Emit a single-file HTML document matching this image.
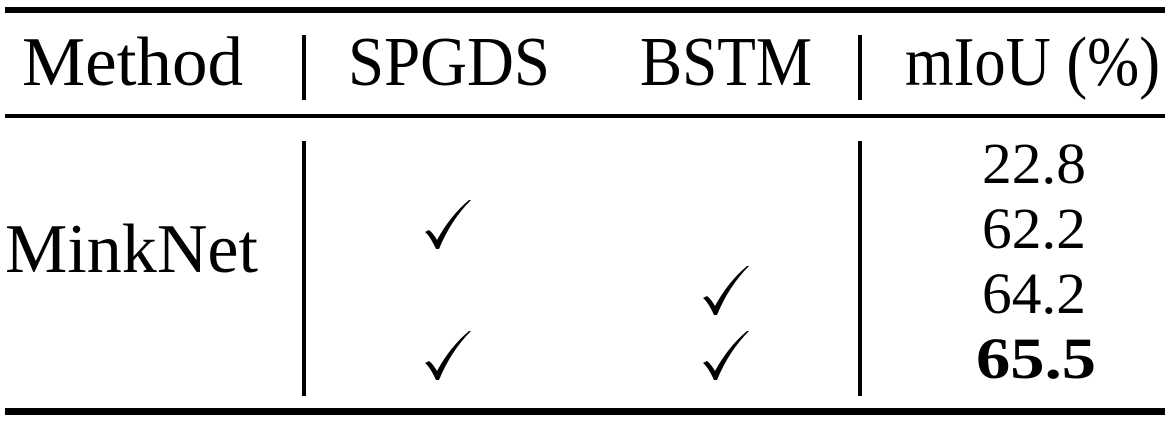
<!DOCTYPE html>
<html><head><meta charset="utf-8"><style>
html,body{margin:0;padding:0;background:#fff;width:1173px;height:421px;overflow:hidden}
text{font-family:"Liberation Serif",serif;fill:#000}
</style></head><body>
<svg width="1173" height="421" viewBox="0 0 1173 421" xmlns="http://www.w3.org/2000/svg">
<rect x="5" y="7" width="1160" height="6" fill="#000"/>
<rect x="5" y="114" width="1160" height="4" fill="#000"/>
<rect x="5" y="408" width="1160" height="7" fill="#000"/>
<rect x="302" y="35" width="4" height="65" fill="#000"/>
<rect x="858" y="35" width="4" height="65" fill="#000"/>
<rect x="302" y="141" width="4" height="255" fill="#000"/>
<rect x="858" y="141" width="4" height="255" fill="#000"/>
<g font-size="70">
<text x="22" y="85" textLength="221" lengthAdjust="spacingAndGlyphs">Method</text>
<text x="348" y="85" textLength="202" lengthAdjust="spacingAndGlyphs">SPGDS</text>
<text x="640" y="85" textLength="172" lengthAdjust="spacingAndGlyphs">BSTM</text>
<text x="905" y="85" textLength="255" lengthAdjust="spacingAndGlyphs">mIoU (%)</text>
<text x="5" y="272" textLength="253" lengthAdjust="spacingAndGlyphs">MinkNet</text>
</g>
<g font-size="58">
<text x="982" y="183" textLength="104" lengthAdjust="spacingAndGlyphs">22.8</text>
<text x="982" y="248" textLength="104" lengthAdjust="spacingAndGlyphs">62.2</text>
<text x="982" y="313" textLength="104" lengthAdjust="spacingAndGlyphs">64.2</text>
<text x="976" y="378" font-weight="bold" textLength="120" lengthAdjust="spacingAndGlyphs">65.5</text>
</g>
<defs>
<path id="ck" d="M0 32 Q5 36 11 49 L14 49 Q26 20 46 0 L44 0 Q25 16 12 40 Q8 33 4 30 Z" fill="#000"/>
</defs>
<use href="#ck" x="425" y="200"/>
<use href="#ck" x="703" y="266"/>
<use href="#ck" x="425" y="331"/>
<use href="#ck" x="703" y="331"/>
</svg>
</body></html>
